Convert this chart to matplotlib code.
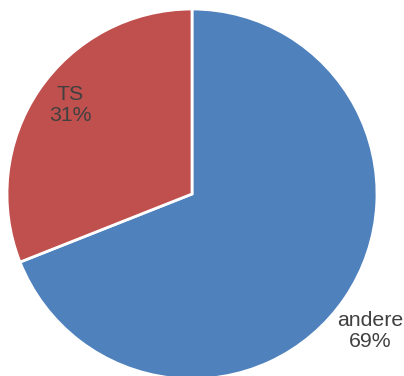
import matplotlib
matplotlib.use("Agg")
import matplotlib.pyplot as plt
import numpy as np

categories = ["andere", "TS"]
values = [69, 31]
colors = ["#4F81BD", "#C0504D"]

W, H = 404, 376
cx, cy, R = 192, 194, 185  # pie centre / radius in pixels

fig = plt.figure(figsize=(W / 100, H / 100), dpi=100)
ax = fig.add_axes([0, 0, 1, 1])
wedges, _ = ax.pie(values, colors=colors, startangle=90, counterclock=False,
                   radius=1.0, wedgeprops=dict(edgecolor="white", linewidth=2.0))
ax.set_xlim(-cx / R, (W - cx) / R)
ax.set_ylim(-(H - cy) / R, cy / R)
ax.set_aspect("auto")
ax.axis("off")

# label placement (pixel coordinates of label centres)
label_px = [(370, 331), (70, 105)]
total = sum(values)
for cat, v, (px, py) in zip(categories, values, label_px):
    X = (px - cx) / R
    Y = (cy - py) / R
    ax.text(X, Y, f"{cat}\n{round(100 * v / total)}%", ha="center", va="center",
            fontsize=15.3, color="#404040", family=["Liberation Sans", "DejaVu Sans"],
            linespacing=1.15)

fig.savefig("out.png", dpi=100)
